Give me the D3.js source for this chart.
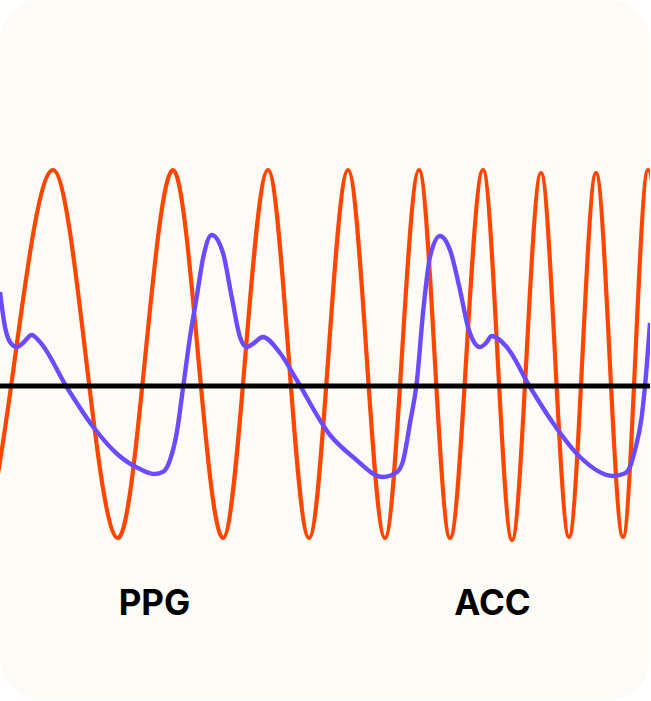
<!DOCTYPE html>
<html>
<head>
<meta charset="utf-8">
<script src="https://cdn.jsdelivr.net/npm/d3@7"></script>
<style>
  html, body { margin: 0; padding: 0; background: #ffffff; }
  svg { display: block; }
</style>
</head>
<body>
<div id="chart"></div>
<script>
// ACC (orange chirp): turning points, time in s, amplitude in a.u.
var accTime = [-1.02, -0.22, 0.53, 1.18, 1.73, 2.23, 2.68, 3.09, 3.48, 3.85, 4.19, 4.50, 4.83, 5.12, 5.41, 5.69, 5.96, 6.23, 6.48, 6.70];
var accValue = [2.16, -1.52, 2.16, -1.52, 2.16, -1.52, 2.16, -1.52, 2.16, -1.52, 2.16, -1.52, 2.16, -1.54, 2.13, -1.51, 2.13, -1.51, 2.16, -1.52];

// PPG (purple pulse wave): samples
var ppgTime = [0.00, 0.05, 0.10, 0.167, 0.23, 0.317, 0.40, 0.667, 0.933, 1.183, 1.40, 1.55, 1.633, 1.70, 1.767, 1.833, 1.90, 1.967, 2.033, 2.117, 2.23, 2.317, 2.40, 2.467, 2.54, 2.627, 2.80, 2.967, 3.30, 3.53, 3.83, 3.97, 4.033, 4.10, 4.167, 4.233, 4.30, 4.40, 4.50, 4.60, 4.68, 4.80, 4.86, 4.917, 5.067, 5.30, 5.53, 5.80, 6.13, 6.25, 6.30, 6.35, 6.417, 6.467, 6.50];
var ppgValue = [0.94, 0.59, 0.44, 0.39, 0.43, 0.51, 0.44, -0.01, -0.41, -0.69, -0.83, -0.88, -0.857, -0.74, -0.47, 0.00, 0.49, 0.89, 1.29, 1.51, 1.33, 0.89, 0.49, 0.39, 0.43, 0.49, 0.33, 0.06, -0.49, -0.71, -0.91, -0.86, -0.74, -0.37, 0.03, 0.76, 1.29, 1.50, 1.36, 0.96, 0.59, 0.39, 0.43, 0.50, 0.39, -0.01, -0.37, -0.71, -0.90, -0.873, -0.807, -0.64, -0.307, 0.193, 0.63];

var labels = ['PPG', 'ACC'];
var labelTime = [1.545, 4.925];

var width = 651, height = 701;
var cardW = 650, cardH = 700;

var x = d3.scaleLinear().domain([0, 6.5]).range([0, 650]);
var y = d3.scaleLinear().domain([-2, 2]).range([586, 186]);

var svg = d3.select('#chart').append('svg')
  .attr('width', width)
  .attr('height', height);

svg.append('defs').append('clipPath').attr('id', 'card')
  .append('rect').attr('width', cardW).attr('height', cardH).attr('rx', 42).attr('ry', 42);

svg.append('rect')
  .attr('width', cardW).attr('height', cardH)
  .attr('rx', 42).attr('ry', 42)
  .attr('fill', '#fdfbf6');

var g = svg.append('g').attr('clip-path', 'url(#card)');

var acc = d3.zip(accTime, accValue);
var ppg = d3.zip(ppgTime, ppgValue);

var line = d3.line()
  .x(function(d) { return x(d[0]); })
  .y(function(d) { return y(d[1]); })
  .curve(d3.curveMonotoneX);

g.append('path')
  .datum(acc)
  .attr('d', line)
  .attr('fill', 'none')
  .attr('stroke', '#ff4500')
  .attr('stroke-width', 4.2);

g.append('path')
  .datum(ppg)
  .attr('d', line)
  .attr('fill', 'none')
  .attr('stroke', '#6a4bff')
  .attr('stroke-width', 4.4)
  .attr('stroke-linejoin', 'round');

g.append('line')
  .attr('x1', x(0)).attr('x2', x(6.5))
  .attr('y1', y(0)).attr('y2', y(0))
  .attr('stroke', '#000')
  .attr('stroke-width', 4.8);

svg.selectAll('text.label')
  .data(labels)
  .enter().append('text')
  .attr('class', 'label')
  .attr('x', function(d, i) { return x(labelTime[i]); })
  .attr('y', 615)
  .attr('text-anchor', 'middle')
  .attr('font-family', 'Inter, "Noto Sans", sans-serif')
  .attr('font-weight', 700)
  .attr('font-size', 35)
  .attr('fill', '#000')
  .text(function(d) { return d; });
</script>
</body>
</html>
